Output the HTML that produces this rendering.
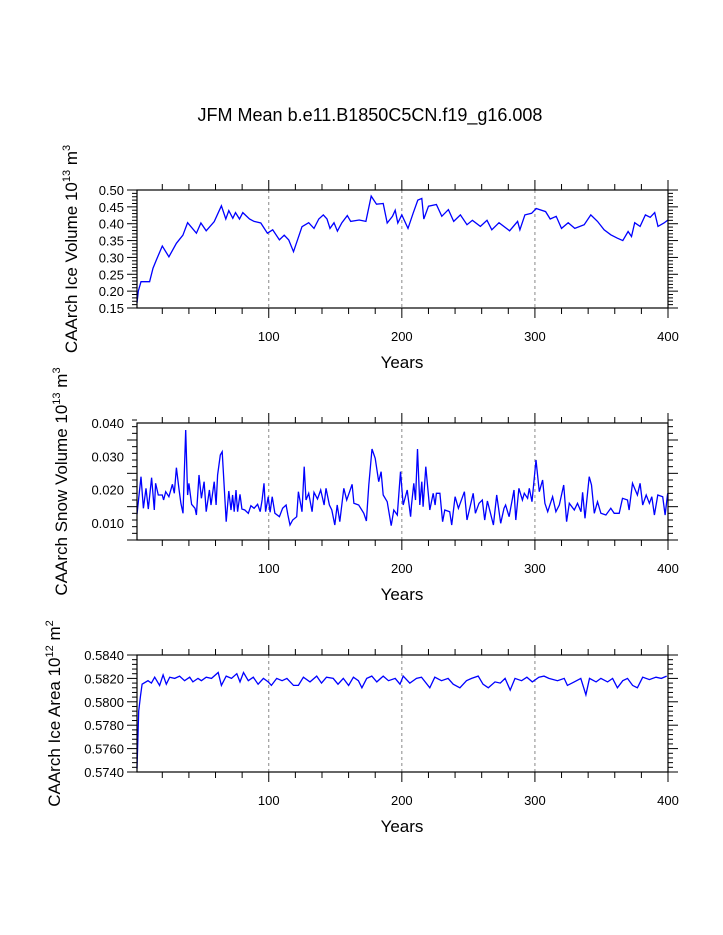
<!DOCTYPE html>
<html><head><meta charset="utf-8"><style>
html,body{margin:0;padding:0;background:#fff;}
svg{display:block;font-family:"Liberation Sans",Arial,sans-serif;}
</style></head>
<body>
<svg id="chart" width="723" height="935" viewBox="0 0 723 935" xmlns="http://www.w3.org/2000/svg">
<text x="370" y="121" font-size="18" text-anchor="middle">JFM Mean b.e11.B1850C5CN.f19_g16.008</text>
</svg>
<script>
// ---- Panel 1: ice volume ----
const volYears=[1,2,4,10.5,13,15.5,20,25,30.6,35.5,39,45.6,49,53,59,64.4,67.7,70,73,75,78,80.5,85.5,89,94,99,103,108,111.6,115,118.6,121.6,125,130,134,137.6,141,143.8,146,149,151.6,155,159,161.6,168,173,177,181,186,189,193,195,197,200,204.6,208.5,212,215,216.5,220,226,230,235,239,244,249,253,259,264,267.6,273,281,287,288.7,292.5,297.5,301,308,311.5,316,320,325,330,337,342,347,352,357,362,366,370,372.6,375,379,383,386.6,390,392.5,397,400];
const volValues=[0.165,0.20,0.228,0.228,0.268,0.292,0.334,0.302,0.342,0.366,0.403,0.372,0.402,0.379,0.406,0.453,0.414,0.439,0.416,0.433,0.414,0.433,0.414,0.407,0.402,0.372,0.382,0.352,0.366,0.352,0.317,0.352,0.391,0.403,0.386,0.414,0.426,0.414,0.386,0.403,0.378,0.403,0.424,0.407,0.411,0.407,0.482,0.458,0.460,0.402,0.422,0.440,0.402,0.426,0.386,0.431,0.470,0.475,0.414,0.452,0.457,0.422,0.442,0.407,0.426,0.397,0.410,0.392,0.410,0.382,0.403,0.379,0.407,0.382,0.426,0.431,0.445,0.436,0.414,0.422,0.386,0.403,0.386,0.397,0.426,0.407,0.382,0.367,0.357,0.350,0.377,0.362,0.403,0.392,0.426,0.419,0.433,0.392,0.402,0.411];
const volTickLabels=["0.15","0.20","0.25","0.30","0.35","0.40","0.45","0.50"];
// ---- Panel 2: snow volume ----
const snowYears=[1,4,5.8,7.8,9.5,12,14,15,17,20,21,22.6,25,27.6,29,30.6,32.6,34,35.6,37.6,39,40,42,44.6,45.6,47.6,49.4,51.4,53,55.4,56.6,59,60.4,61.6,63.6,65,68,70,71.6,72.8,74,75.4,76.6,78.4,79.8,82,84.6,86.6,89,91.6,93.6,95,96.4,97.6,99.6,101,102.6,104.6,108,110.4,113,114.4,116,118,121,122.3,125,126.6,128,130,132.6,134,136.6,139,141.6,143,145.6,147.4,149.6,151.4,153.4,156.4,158.6,160.6,162.6,164,167.6,171.4,173.4,175.2,177.6,180,182.6,184.4,186,189,192,194,196.6,199,201,204,206.6,207.3,209,210.3,211.8,213.5,215,216,218,221,223.6,225,226,228.6,230.6,232.3,236,237.5,240,242.5,247,249,253.6,255.3,258,260.5,262.3,264.3,266.3,268.8,271.3,274.3,276.8,278,280.6,284.3,285.6,288,290.6,292,294.5,295.8,297.8,300.8,303.3,305.8,307.5,309.6,313.3,315.8,318.3,321.6,323.8,325.8,329.6,332,334.6,335.8,337.6,340.8,342.5,344.6,347,349.6,353.3,357,359.6,363.3,365.8,369.6,370.8,373.3,377,379,381,383.6,386,387.8,389.8,392.3,396,397.8,399.8];
const snowValues=[0.0126,0.0239,0.0144,0.0204,0.0142,0.0236,0.0139,0.0219,0.0184,0.0184,0.0169,0.0194,0.0179,0.0216,0.0189,0.0266,0.0199,0.0159,0.0129,0.0379,0.0184,0.0219,0.0156,0.0144,0.0124,0.0244,0.0174,0.0224,0.0134,0.0199,0.0154,0.0224,0.0154,0.0244,0.0304,0.0314,0.0104,0.0196,0.0139,0.0184,0.0134,0.0199,0.0134,0.0186,0.0142,0.0139,0.0129,0.0152,0.0144,0.0156,0.0134,0.0169,0.0219,0.0134,0.0179,0.0132,0.0179,0.0129,0.0119,0.0144,0.0154,0.0124,0.0094,0.0109,0.0119,0.0194,0.0134,0.0269,0.0169,0.0189,0.0134,0.0192,0.0172,0.0199,0.0154,0.0204,0.0154,0.0139,0.0094,0.0154,0.0104,0.0204,0.0169,0.0192,0.0216,0.0159,0.0154,0.0129,0.0106,0.0214,0.0322,0.0294,0.0224,0.0254,0.0184,0.0164,0.0092,0.0139,0.0124,0.0254,0.0154,0.0199,0.0119,0.0154,0.0219,0.0169,0.0322,0.0154,0.0224,0.0149,0.0269,0.0139,0.0189,0.0154,0.0189,0.0189,0.0104,0.0139,0.0134,0.0094,0.0179,0.0144,0.0194,0.0109,0.0189,0.0129,0.0159,0.0169,0.0109,0.0166,0.0134,0.0094,0.0184,0.0099,0.0144,0.0154,0.0119,0.0199,0.0109,0.0204,0.0169,0.0189,0.0174,0.0204,0.0164,0.0289,0.0194,0.0229,0.0159,0.0134,0.0179,0.0134,0.0154,0.0214,0.0104,0.0159,0.0139,0.0159,0.0134,0.0192,0.0114,0.0239,0.0214,0.0129,0.0164,0.0129,0.0124,0.0144,0.0129,0.0129,0.0174,0.0169,0.0139,0.0219,0.0184,0.0219,0.0154,0.0184,0.0159,0.0179,0.0124,0.0184,0.0179,0.0124,0.0189];
const snowTickLabels=["0.010","0.020","0.030","0.040"];
// ---- Panel 3: ice area ----
const areaYears=[1,2.3,3.6,4.8,9.3,11.8,14.3,18,20.6,23,25.6,29.3,33,36.8,40.6,43,46.8,49.4,53,57,62,64.4,68,72,76,78.4,81,84.6,88.4,92,96,99.6,102,106,110,113.6,118.6,122.3,126,131,136,139.6,143.4,148.4,152,156,160,163.6,167.4,170,173.6,177.4,181.2,186,190,195,198.6,201,206,211,214.8,221,224.8,229.8,234.8,238.6,243.6,248.6,252.4,257.4,261,265,270,274,277.6,281.4,285,290,294,298,303,306.8,310.5,317,322,324.4,329.5,334.5,338.3,341,346,349.6,354.6,358.4,362,366,369.6,373.4,377,381,386,391,395,399];
const areaValues=[0.5743,0.5792,0.5805,0.5815,0.5818,0.5816,0.5821,0.5814,0.5823,0.5815,0.5821,0.5820,0.5822,0.5818,0.5821,0.5817,0.5820,0.5818,0.5821,0.5820,0.5825,0.5814,0.5822,0.5820,0.5824,0.5817,0.5825,0.5818,0.5821,0.5815,0.5820,0.5817,0.5814,0.5820,0.5818,0.5820,0.5814,0.5814,0.5821,0.5817,0.5822,0.5816,0.5821,0.5820,0.5815,0.5820,0.5814,0.5821,0.5818,0.5812,0.5820,0.5822,0.5817,0.5822,0.5818,0.5820,0.5815,0.5822,0.5816,0.5820,0.5821,0.5812,0.5821,0.5818,0.5820,0.5815,0.5812,0.5818,0.5820,0.5822,0.5815,0.5812,0.5817,0.5816,0.5820,0.5810,0.5820,0.5818,0.5821,0.5817,0.5821,0.5822,0.5820,0.5818,0.5820,0.5814,0.5817,0.5820,0.5806,0.5820,0.5817,0.5820,0.5817,0.5820,0.5812,0.5818,0.5820,0.5814,0.5812,0.5821,0.5819,0.5821,0.5820,0.5822];
const areaTickLabels=["0.5740","0.5760","0.5780","0.5800","0.5820","0.5840"];
const xTickLabels=["100","200","300","400"];

const NS="http://www.w3.org/2000/svg";
const svg=document.getElementById('chart');
function mk(tag,attrs,parent){const e=document.createElementNS(NS,tag);for(const k in attrs)e.setAttribute(k,attrs[k]);(parent||svg).appendChild(e);return e;}
const X0=137,X1=668;
function xs(yr){return X0+(yr-1)*(X1-X0)/399;}

function panel(p){
  const g=mk('g',{});
  
  
  const ys=v=>p.bot-(v-p.min)*(p.bot-p.top)/(p.max-p.min);
  // grid dashed
  xTickLabels.slice(0,3).forEach(t=>{
    const l=mk('line',{x1:xs(+t),x2:xs(+t),y1:p.top,y2:p.bot,stroke:'#888','stroke-width':1,'stroke-dasharray':'3,3'},g);
    
    
  });
  // x ticks top/bottom
  for(let yr=20;yr<=400;yr+=20){
    const x=xs(yr);const L=(yr%100===0)?10:6;
    mk('line',{x1:x,x2:x,y1:p.top,y2:p.top-L,stroke:'#000','stroke-width':1},g);
    mk('line',{x1:x,x2:x,y1:p.bot,y2:p.bot+L,stroke:'#000','stroke-width':1},g);
  }
  xTickLabels.forEach(t=>{
    const tx=mk('text',{x:xs(+t),y:p.bot+33,'font-size':13,'text-anchor':'middle'},g);
    tx.textContent=t;
    
    
  });
  // y ticks
  const n=Math.round((p.max-p.min)/p.minor);
  for(let i=0;i<=n;i++){
    const v=p.min+i*p.minor;const y=ys(v);
    const major=(i%p.per===0);const L=major?10:5;
    mk('line',{x1:X0,x2:X0-L,y1:y,y2:y,stroke:'#000','stroke-width':1},g);
    mk('line',{x1:X1,x2:X1+L,y1:y,y2:y,stroke:'#000','stroke-width':1},g);
  }
  p.labels.forEach(t=>{
    const tx=mk('text',{x:X0-13,y:ys(+t)+5,'font-size':13,'text-anchor':'end'},g);
    tx.textContent=t;
    
    
  });
  // series
  let d='';
  p.years.forEach((yr,i)=>{d+=(i?'L':'M')+xs(yr).toFixed(1)+','+ys(p.values[i]).toFixed(1);});
  const path=mk('path',{d:d,fill:'none',stroke:'#0000ff','stroke-width':1.3},g);
  
  
  // frame
  const fr=mk('rect',{x:X0,y:p.top,width:X1-X0,height:p.bot-p.top,fill:'none',stroke:'#000','stroke-width':1.2},g);
  
  
  // x title
  const xt=mk('text',{x:402,y:p.bot+60,'font-size':17,'text-anchor':'middle'},g);
  xt.textContent='Years';
  
  
  // y title
  const cy=(p.top+p.bot)/2;
  const yt=mk('text',{x:0,y:0,'font-size':17,'text-anchor':'middle',transform:'translate('+p.tx+','+cy+') rotate(-90)'},g);
  
  
  const a=mk('tspan',{},yt);a.textContent=p.title+' 10';
  const b=mk('tspan',{dy:-7,'font-size':11},yt);b.textContent=p.exp1;
  const c=mk('tspan',{dy:7},yt);c.textContent=' m';
  const e=mk('tspan',{dy:-7,'font-size':11},yt);e.textContent=p.exp2;
}
panel({name:'ice-volume-panel',top:190,bot:308,min:0.15,max:0.50,minor:0.01,per:5,labels:volTickLabels,years:volYears,values:volValues,title:'CAArch Ice Volume',exp1:'13',exp2:'3',tx:77});
panel({name:'snow-volume-panel',top:423,bot:540,min:0.0049,max:0.040,minor:0.002,per:5,labels:snowTickLabels,years:snowYears,values:snowValues,title:'CAArch Snow Volume',exp1:'13',exp2:'3',tx:67});
panel({name:'ice-area-panel',top:655,bot:772,min:0.574,max:0.584,minor:0.0004,per:5,labels:areaTickLabels,years:areaYears,values:areaValues,title:'CAArch Ice Area',exp1:'12',exp2:'2',tx:60});
</script>
</body></html>
